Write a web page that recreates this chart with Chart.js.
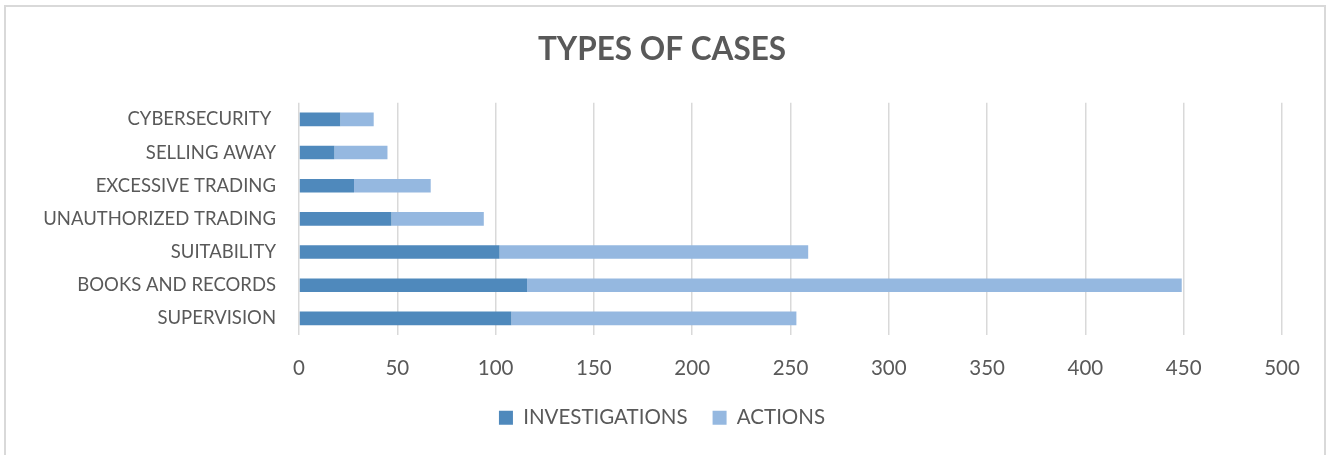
<!DOCTYPE html>
<html>
<head>
<meta charset="utf-8">
<script src="https://cdn.jsdelivr.net/npm/chart.js@4"></script>
<style>
    html, body { margin: 0; padding: 0; background: #fff; }
    #wrap { position: relative; width: 1330px; height: 455px; }
    #frame { position: absolute; left: 4px; top: 5px; width: 1322px; height: 460px; border: 2px solid #d9d9d9; box-sizing: border-box; pointer-events: none; }
</style>
</head>
<body>
<div id="wrap">
    <canvas id="casesChart" width="1330" height="455"></canvas>
    <div id="frame"></div>
</div>
<script>
// Categories, top to bottom
const categories = ['CYBERSECURITY ', 'SELLING AWAY', 'EXCESSIVE TRADING', 'UNAUTHORIZED TRADING', 'SUITABILITY', 'BOOKS AND RECORDS', 'SUPERVISION'];
const investigations = [21, 18, 28, 47, 102, 116, 108];
const actions = [17, 27, 39, 47, 157, 333, 145];
const xTicks = [0, 50, 100, 150, 200, 250, 300, 350, 400, 450, 500];

const textColor = '#595959';
const fontFamily = 'Lato, "Open Sans", sans-serif';

new Chart(document.getElementById('casesChart'), {
    type: 'bar',
    data: {
        labels: categories,
        datasets: [
            {
                label: 'INVESTIGATIONS',
                data: investigations,
                backgroundColor: '#4f89bc',
                barPercentage: 0.41,
                categoryPercentage: 1
            },
            {
                label: 'ACTIONS',
                data: actions,
                backgroundColor: '#95b8e0',
                barPercentage: 0.41,
                categoryPercentage: 1
            }
        ]
    },
    options: {
        indexAxis: 'y',
        responsive: false,
        animation: false,
        // left padding kept as wide as the labels allow so the title sits near the middle
        layout: { padding: { left: 42, right: 48, top: 0, bottom: 17 } },
        plugins: {
            title: {
                display: true,
                text: 'TYPES OF CASES',
                color: textColor,
                font: { family: fontFamily, size: 31.5, weight: 'bold' },
                padding: { top: 31, bottom: 34 }
            },
            legend: {
                position: 'bottom',
                labels: {
                    color: textColor,
                    font: { family: fontFamily, size: 20.5 },
                    boxWidth: 14,
                    boxHeight: 14,
                    padding: 25
                }
            },
            tooltip: { enabled: false }
        },
        scales: {
            x: {
                stacked: true,
                min: 0,
                max: 500,
                afterBuildTicks: function (scale) {
                    scale.ticks = xTicks.map(v => ({ value: v }));
                },
                afterFit: function (scale) { scale.height = 47.5; },
                border: { display: false },
                grid: { color: '#d9d9d9', lineWidth: 1.5, drawTicks: false },
                ticks: {
                    color: textColor,
                    padding: 21,
                    font: { family: fontFamily, size: 20.5 }
                }
            },
            y: {
                stacked: true,
                afterFit: function (scale) { scale.width = 257; },
                border: { display: false },
                grid: { display: false, drawTicks: false, tickLength: 0 },
                ticks: {
                    color: textColor,
                    padding: 23,
                    font: { family: fontFamily, size: 18.5 }
                }
            }
        }
    }
});
</script>
</body>
</html>
